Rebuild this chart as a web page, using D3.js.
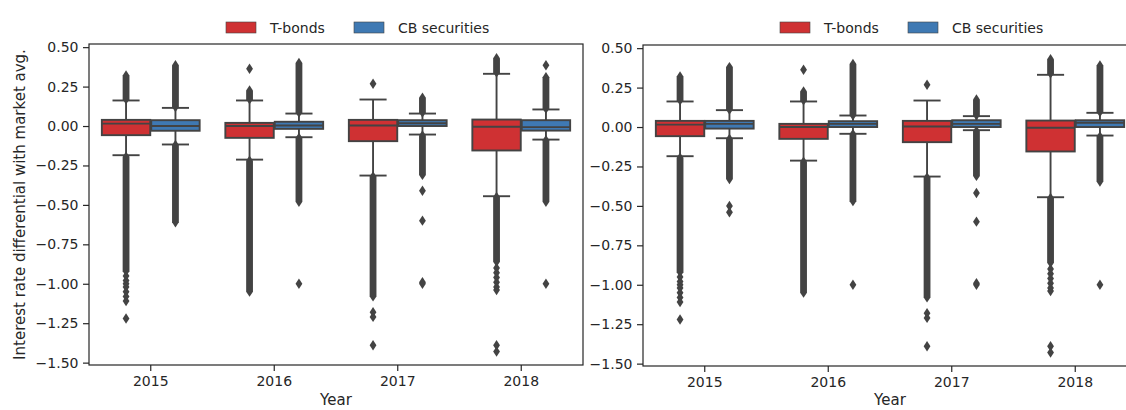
<!DOCTYPE html>
<html>
<head>
<meta charset="utf-8">
<script src="https://cdn.jsdelivr.net/npm/d3@7"></script>
<style>
  body { margin: 0; background: #fff; overflow: hidden; }
  svg { display: block; font-family: "DejaVu Sans", sans-serif; }
</style>
</head>
<body>
<div id="chart"></div>
<script>
// categories and tick labels
var years = ["2015", "2016", "2017", "2018"];
var groups = ["T-bonds", "CB securities"];
var yTicks = [0.5, 0.25, 0, -0.25, -0.5, -0.75, -1.0, -1.25, -1.5];

// box stats per year: [lower whisker, q1, median, q3, upper whisker]
var tbondBox = [
  [-0.185, -0.058, 0.015, 0.039, 0.162],
  [-0.213, -0.075, 0.000, 0.020, 0.162],
  [-0.314, -0.096, 0.003, 0.039, 0.168],
  [-0.445, -0.155, -0.005, 0.041, 0.331]
];
var cbBoxA = [
  [-0.117, -0.030, 0.000, 0.037, 0.115],
  [-0.071, -0.018, 0.003, 0.027, 0.079],
  [-0.054, 0.000, 0.018, 0.037, 0.079],
  [-0.086, -0.029, -0.007, 0.037, 0.105]
];
var cbBoxB = [
  [-0.071, -0.010, 0.020, 0.039, 0.107],
  [-0.043, 0.000, 0.020, 0.037, 0.073],
  [-0.020, 0.000, 0.020, 0.043, 0.069],
  [-0.054, 0.000, 0.027, 0.043, 0.090]
];

// dense runs of outliers per year: [low, high]
var tbondRuns = [
  [[-0.92, -0.195], [0.17, 0.32]],
  [[-1.05, -0.22], [0.17, 0.225]],
  [[-1.08, -0.32]],
  [[-0.86, -0.45], [0.34, 0.43]]
];
// single outliers per year
var tbondPts = [
  [-0.95, -0.98, -1.0, -1.02, -1.05, -1.08, -1.11, -1.22],
  [0.363],
  [0.268, -1.18, -1.21, -1.39],
  [-0.9, -0.93, -0.96, -0.99, -1.02, -1.04, -1.39, -1.43]
];

var cbRunsA = [
  [[-0.61, -0.12], [0.12, 0.385]],
  [[-0.48, -0.075], [0.085, 0.40]],
  [[-0.31, -0.06], [0.085, 0.18]],
  [[-0.48, -0.09], [0.11, 0.31]]
];
var cbPtsA = [
  [],
  [-1.0],
  [-0.41, -0.60, -0.99, -1.0],
  [0.385, -1.0]
];

var cbRunsB = [
  [[-0.33, -0.075], [0.11, 0.38]],
  [[-0.47, -0.045], [0.075, 0.40]],
  [[-0.31, -0.025], [0.075, 0.175]],
  [[-0.345, -0.06], [0.095, 0.39]]
];
var cbPtsB = [
  [-0.50, -0.54],
  [-1.0],
  [-0.418, -0.60, -0.99, -1.0],
  [-1.0]
];

var colors = {"T-bonds": "#cf3133", "CB securities": "#3f79b3"};
var gray = "#434343";
var fontSize = 14;

var W = 1126, H = 410;
var svg = d3.select("#chart").append("svg")
    .attr("width", W)
    .attr("height", H);

var panels = [
  {left: 89, top: 44, width: 494, height: 321, cbBox: cbBoxA, cbRuns: cbRunsA, cbPts: cbPtsA, legendX: 226, ylabel: true},
  {left: 643, top: 45, width: 494, height: 321, cbBox: cbBoxB, cbRuns: cbRunsB, cbPts: cbPtsB, legendX: 780, ylabel: false}
];

panels.forEach(function(p) {
  var g = svg.append("g")
      .attr("transform", "translate(" + p.left + "," + p.top + ")");

  var x = d3.scaleBand().domain(years).range([0, p.width]).padding(0);
  var bw = x.bandwidth();
  var xHue = d3.scaleBand().domain(groups).range([0.1 * bw, 0.9 * bw]).padding(0);
  var boxW = xHue.bandwidth() * 0.98;
  var y = d3.scaleLinear().domain([-1.515, 0.52]).range([p.height, 0]);

  var series = [
    {name: "T-bonds", box: tbondBox, runs: tbondRuns, pts: tbondPts},
    {name: "CB securities", box: p.cbBox, runs: p.cbRuns, pts: p.cbPts}
  ];

  var dw = 3.4, dh = 5.2;   // half sizes of the flier diamonds

  series.forEach(function(s) {
    years.forEach(function(yr, i) {
      var cx = x(yr) + xHue(s.name) + xHue.bandwidth() / 2;
      var st = s.box[i];
      var bg = g.append("g");

      // whiskers
      bg.append("line")
          .attr("x1", cx).attr("x2", cx)
          .attr("y1", y(st[0])).attr("y2", y(st[1]))
          .attr("stroke", gray).attr("stroke-width", 1.9);
      bg.append("line")
          .attr("x1", cx).attr("x2", cx)
          .attr("y1", y(st[3])).attr("y2", y(st[4]))
          .attr("stroke", gray).attr("stroke-width", 1.9);
      [st[0], st[4]].forEach(function(v) {
        bg.append("line")
            .attr("x1", cx - boxW * 0.28).attr("x2", cx + boxW * 0.28)
            .attr("y1", y(v)).attr("y2", y(v))
            .attr("stroke", gray).attr("stroke-width", 1.9);
      });

      // dense outlier runs
      s.runs[i].forEach(function(r) {
        var y0 = y(r[0]), y1 = y(r[1]);
        var pts = [[cx, y1 - dh], [cx + dw, y1], [cx + dw, y0], [cx, y0 + dh],
                   [cx - dw, y0], [cx - dw, y1]];
        bg.append("path")
            .attr("d", "M" + pts.join("L") + "Z")
            .attr("fill", gray);
      });

      // single outliers
      s.pts[i].forEach(function(v) {
        var py = y(v);
        bg.append("path")
            .attr("d", "M" + cx + "," + (py - dh) + "L" + (cx + dw) + "," + py +
                       "L" + cx + "," + (py + dh) + "L" + (cx - dw) + "," + py + "Z")
            .attr("fill", gray);
      });

      // box
      bg.append("rect")
          .attr("x", cx - boxW / 2)
          .attr("width", boxW)
          .attr("y", y(st[3]))
          .attr("height", y(st[1]) - y(st[3]))
          .attr("fill", colors[s.name])
          .attr("stroke", gray)
          .attr("stroke-width", 1.9);
      bg.append("line")
          .attr("x1", cx - boxW / 2).attr("x2", cx + boxW / 2)
          .attr("y1", y(st[2])).attr("y2", y(st[2]))
          .attr("stroke", gray).attr("stroke-width", 1.9);
    });
  });

  // axes
  var yAxis = g.append("g")
      .call(d3.axisLeft(y).tickValues(yTicks).tickFormat(d3.format(".2f")).tickSize(6).tickPadding(4.5));
  var xAxis = g.append("g")
      .attr("transform", "translate(0," + p.height + ")")
      .call(d3.axisBottom(x).tickSize(6).tickPadding(5));
  [yAxis, xAxis].forEach(function(a) {
    a.select(".domain").remove();
    a.selectAll("line").attr("stroke", "#262626").attr("stroke-width", 1.2);
    a.selectAll("text").attr("fill", "#262626").style("font-size", fontSize + "px")
        .style("font-family", "DejaVu Sans");
  });
  yAxis.selectAll("text").text(function(d) { return d3.format(".2f")(d).replace("-", "\u2212"); });

  // frame
  g.append("rect")
      .attr("width", p.width).attr("height", p.height)
      .attr("fill", "none")
      .attr("stroke", "#262626")
      .attr("stroke-width", 1.2);

  // axis labels
  g.append("text")
      .attr("x", p.width / 2)
      .attr("y", 405 - p.top)
      .attr("text-anchor", "middle")
      .attr("fill", "#262626")
      .style("font-size", "15px")
      .text("Year");
  if (p.ylabel) {
    g.append("text")
        .attr("transform", "translate(" + (-64) + "," + (p.height / 2) + ") rotate(-90)")
        .attr("text-anchor", "middle")
        .attr("fill", "#262626")
        .style("font-size", "15px")
        .text("Interest rate differential with market avg.");
  }

  // legend
  var leg = svg.append("g").attr("transform", "translate(" + p.legendX + ",22)");
  groups.forEach(function(name, i) {
    var lx = i * 128;
    leg.append("rect")
        .attr("x", lx).attr("y", 0)
        .attr("width", 30).attr("height", 11)
        .attr("fill", colors[name])
        .attr("stroke", gray).attr("stroke-width", 0.6);
    leg.append("text")
        .attr("x", lx + 44).attr("y", 11)
        .attr("fill", "#262626")
        .style("font-size", fontSize + "px")
        .text(name);
  });
});
</script>
</body>
</html>
